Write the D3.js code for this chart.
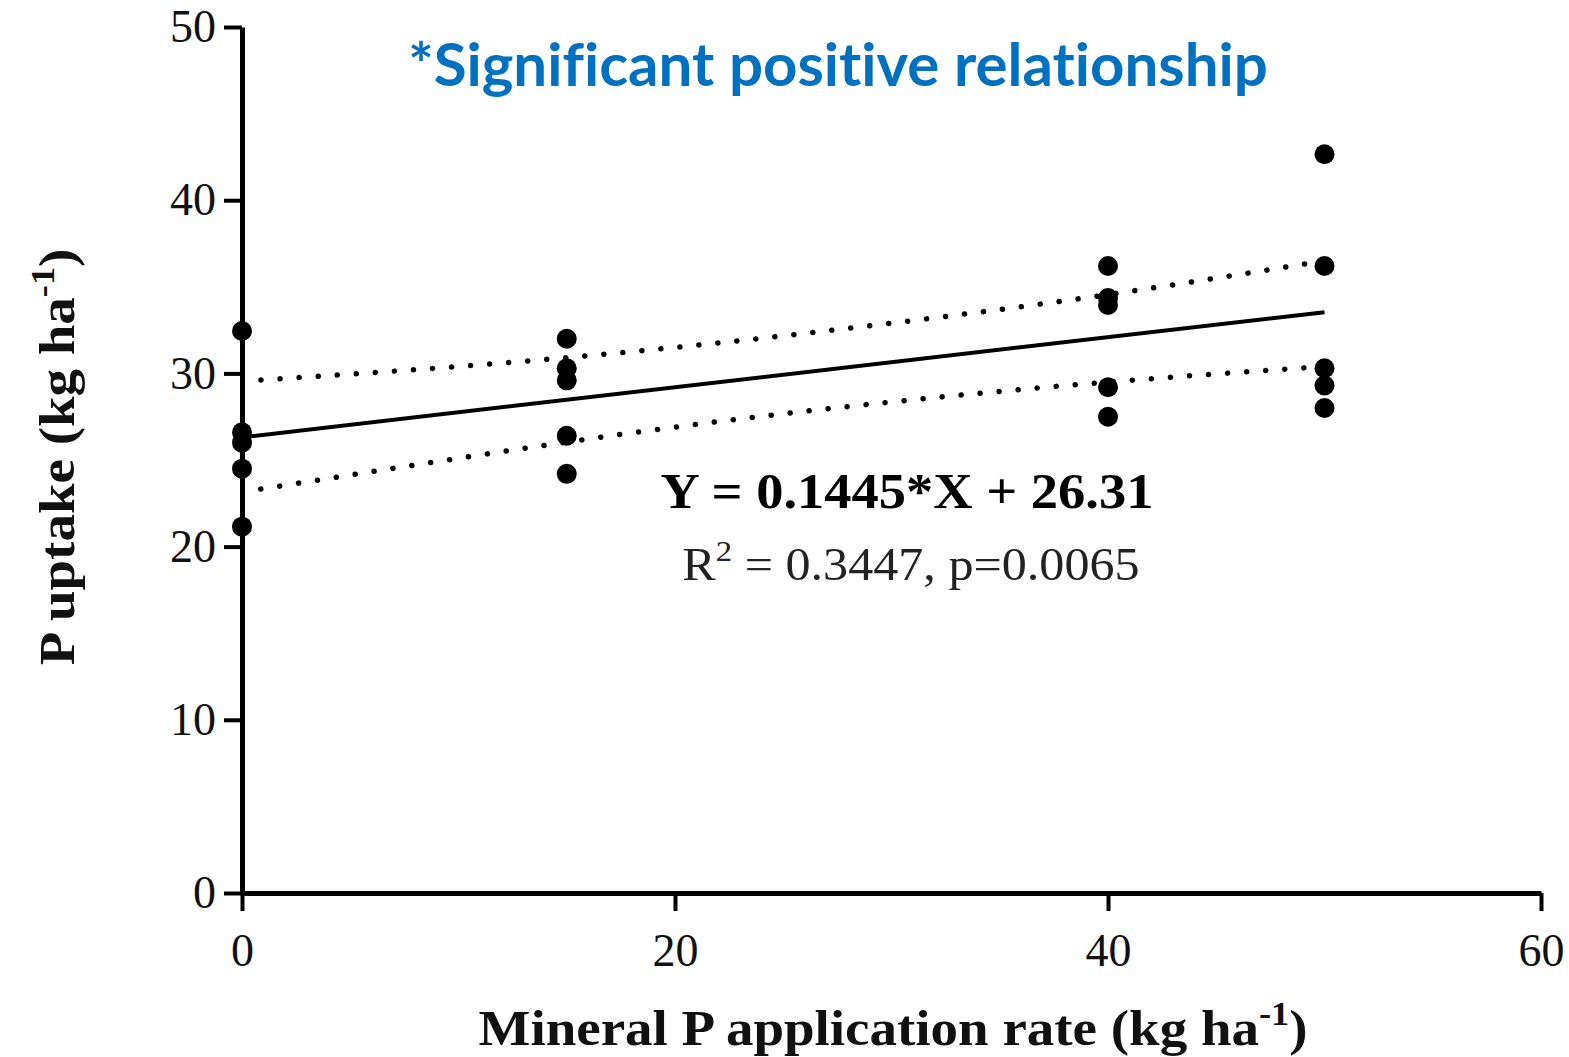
<!DOCTYPE html>
<html>
<head>
<meta charset="utf-8">
<script src="https://cdn.jsdelivr.net/npm/d3@7"></script>
<style>
  body { margin: 0; background: #fff; }
  .tick text { font-family: "Liberation Serif", "Times New Roman", serif; }
</style>
</head>
<body>
<div id="chart"></div>
<script>
var rates = [0, 0, 0, 0, 0, 15, 15, 15, 15, 15, 40, 40, 40, 40, 40, 50, 50, 50, 50, 50];
var uptake = [32.45, 26.6, 26.0, 24.5, 21.15, 32.0, 30.3, 29.6, 26.4, 24.2,
  36.2, 34.35, 33.95, 29.2, 27.5, 42.65, 36.2, 30.3, 29.3, 28.0];
// regression line ends and the 95% band
var fitX = [0, 50];
var fitY = [26.31, 33.535];
var bandX = [0, 10, 20, 30, 40, 50];
var bandUpper = [29.55, 30.4, 31.5, 32.9, 34.55, 36.5];
var bandLower = [23.15, 25.1, 26.9, 28.35, 29.5, 30.4];
var xTicks = [0, 20, 40, 60];
var yTicks = [0, 10, 20, 30, 40, 50];

var width = 1569, height = 1057;
var margin = {top: 27, right: 28, bottom: 164, left: 242};

var svg = d3.select("#chart").append("svg")
  .attr("width", width)
  .attr("height", height);

var x = d3.scaleLinear().domain([0, 60]).range([margin.left, width - margin.right]);
var y = d3.scaleLinear().domain([0, 50]).range([height - margin.bottom, margin.top]);

// axes
var xAxis = svg.append("g")
  .attr("transform", "translate(0," + y(0) + ")")
  .call(d3.axisBottom(x).tickValues(xTicks).tickSize(18).tickPadding(22).tickSizeOuter(0));
xAxis.select(".domain").attr("stroke", "#000").attr("stroke-width", 5);
xAxis.selectAll(".tick line").attr("stroke-width", 4);
xAxis.selectAll(".tick text").attr("font-size", 46).attr("fill", "#111");

var yAxis = svg.append("g")
  .attr("transform", "translate(" + x(0) + ",0)")
  .call(d3.axisLeft(y).tickValues(yTicks).tickSize(18).tickPadding(8).tickSizeOuter(0));
yAxis.select(".domain").attr("stroke", "#000").attr("stroke-width", 5);
yAxis.selectAll(".tick line").attr("stroke-width", 4);
yAxis.selectAll(".tick text").attr("font-size", 46).attr("fill", "#111");

// confidence band (dotted)
var band = d3.line().curve(d3.curveNatural)
  .x(function(d) { return x(d[0]); })
  .y(function(d) { return y(d[1]); });

[bandUpper, bandLower].forEach(function(vals) {
  svg.append("path")
    .attr("d", band(bandX.map(function(v, i) { return [v, vals[i]]; })))
    .attr("fill", "none")
    .attr("stroke", "#000")
    .attr("stroke-width", 5.5)
    .attr("stroke-linecap", "round")
    .attr("stroke-dasharray", "0.1 19")
    .attr("stroke-dashoffset", -19);
});

// fitted line
svg.append("path")
  .attr("d", band(fitX.map(function(v, i) { return [v, fitY[i]]; })))
  .attr("fill", "none")
  .attr("stroke", "#000")
  .attr("stroke-width", 4);

// data points
svg.selectAll("circle.pt")
  .data(rates)
  .enter().append("circle")
  .attr("class", "pt")
  .attr("cx", function(d) { return x(d); })
  .attr("cy", function(d, i) { return y(uptake[i]); })
  .attr("r", 10)
  .attr("fill", "#000");

// equation text
svg.append("text")
  .attr("transform", "translate(907,508) scale(1.09,1)")
  .attr("text-anchor", "middle")
  .attr("font-family", "Liberation Serif, serif")
  .attr("font-weight", "bold")
  .attr("font-size", 50)
  .text("Y = 0.1445*X + 26.31");

var r2 = svg.append("text")
  .attr("transform", "translate(911,580) scale(1.09,1)")
  .attr("text-anchor", "middle")
  .attr("font-family", "Liberation Serif, serif")
  .attr("font-size", 46)
  .attr("fill", "#222");
r2.append("tspan").text("R");
r2.append("tspan").attr("dy", -19).attr("font-size", 30).text("2");
r2.append("tspan").attr("dy", 19).text(" = 0.3447, p=0.0065");

// title
svg.append("text")
  .attr("x", 838).attr("y", 86)
  .attr("text-anchor", "middle")
  .attr("font-family", "Lato, 'Open Sans', sans-serif")
  .attr("font-weight", "bold")
  .attr("font-size", 60)
  .attr("fill", "#0070C0")
  .style("font-variant-ligatures", "none")
  .text("*Significant positive relationship");

// axis titles
var xt = svg.append("text")
  .attr("transform", "translate(893,1045) scale(1.1,1)")
  .attr("text-anchor", "middle")
  .attr("font-family", "Liberation Serif, serif")
  .attr("font-weight", "bold")
  .attr("font-size", 50)
  .attr("fill", "#111");
xt.append("tspan").text("Mineral P application rate (kg ha");
xt.append("tspan").attr("dy", -20).attr("font-size", 33).text("-1");
xt.append("tspan").attr("dy", 20).text(")");

var yt = svg.append("text")
  .attr("transform", "translate(74,457) rotate(-90) scale(1.1,1)")
  .attr("text-anchor", "middle")
  .attr("font-family", "Liberation Serif, serif")
  .attr("font-weight", "bold")
  .attr("font-size", 50)
  .attr("fill", "#111");
yt.append("tspan").text("P uptake (kg ha");
yt.append("tspan").attr("dy", -20).attr("font-size", 33).text("-1");
yt.append("tspan").attr("dy", 20).text(")");
</script>
</body>
</html>
